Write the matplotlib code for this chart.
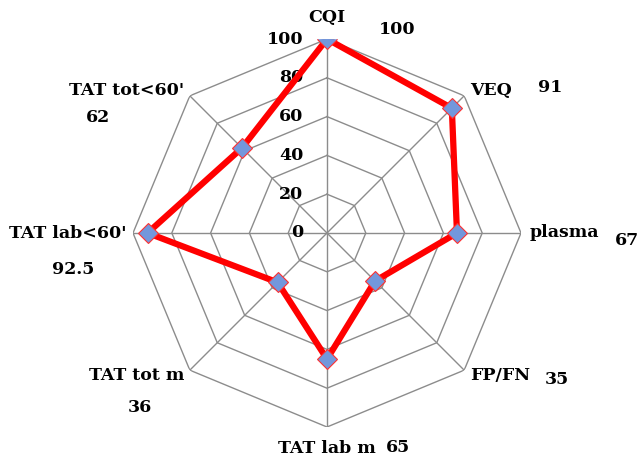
import numpy as np
import matplotlib
matplotlib.use("Agg")
import matplotlib.pyplot as plt

# categories clockwise from the top
categories = ["CQI", "VEQ", "plasma", "FP/FN", "TAT lab m", "TAT tot m",
              "TAT lab<60'", "TAT tot<60'"]
values = [100, 91, 67, 35, 65, 36, 92.5, 62]
rticks = [0, 20, 40, 60, 80, 100]

plt.rcParams['font.family'] = ['DejaVu Serif']
plt.rcParams['font.weight'] = 'bold'
fs = 12.5

W, H = 641, 459
fig = plt.figure(figsize=(W / 100, H / 100), dpi=100)
cx, cy, R = 327, 233, 194
ax = fig.add_axes([(cx - R) / W, (H - cy - R) / H, 2 * R / W, 2 * R / H],
                  projection='polar')
ax.set_theta_zero_location('N')
ax.set_theta_direction(-1)
ax.set_ylim(0, 100)
ax.axis('off')

n = len(categories)
theta = np.arange(n) * 2 * np.pi / n
theta_c = np.append(theta, theta[0])

# octagon grid
for r in rticks[1:]:
    ax.plot(theta_c, [r] * (n + 1), color='#8c8c8c', lw=1, zorder=1)
for t in theta:
    ax.plot([t, t], [0, 100], color='#8c8c8c', lw=1, zorder=1)

# radial tick labels
for r in rticks:
    ax.annotate(str(r), xy=(0, r), xytext=(-17, 0), textcoords='offset points',
                ha='right', va='center', fontsize=fs, fontweight='bold')

# data
vals_c = np.append(values, values[0])
ax.plot(theta_c, vals_c, color='#ff0000', lw=4.5, zorder=3, solid_joinstyle='miter')
ax.plot(theta, values, ls='none', marker='D', ms=10.5, mfc='#7397dc',
        mec='#ff3030', mew=0.8, zorder=4)

# category labels
lab_pos = [(111, 'center'), (104, 'left'), (104.5, 'left'), (104, 'left'),
           (111, 'center'), (104, 'right'), (103.6, 'right'), (104, 'right')]
for t, name, (r, ha) in zip(theta, categories, lab_pos):
    ax.text(t, r, name, ha=ha, va='center', fontsize=fs, fontweight='bold',
            clip_on=False)

# value labels (pixel positions of the free text boxes)
val_xy = [(397, 30), (550, 88), (627, 241), (557, 380), (398, 448),
          (140, 408), (73, 269), (98, 118)]
for v, (x, y) in zip(values, val_xy):
    fig.text(x / W, 1 - y / H, f"{v:g}", ha='center', va='center',
             fontsize=fs, fontweight='bold')

fig.savefig("out.png", dpi=100)
